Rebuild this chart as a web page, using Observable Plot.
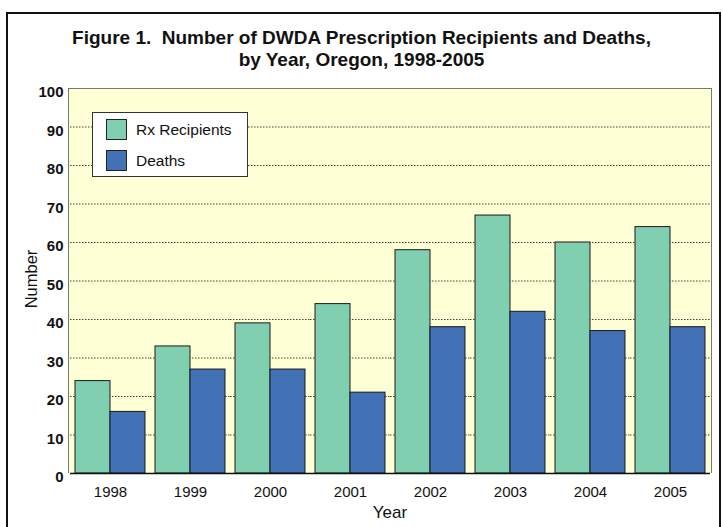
<!DOCTYPE html>
<html><head><meta charset="utf-8">
<script src="https://cdn.jsdelivr.net/npm/d3@7"></script>
<script src="https://cdn.jsdelivr.net/npm/@observablehq/plot@0.6"></script>
<style>
body{margin:0;background:#fff;font-family:"Liberation Sans",Arial,sans-serif;color:#111;}
#wrap{position:relative;width:723px;height:527px;overflow:hidden;background:#fff;}
#border{position:absolute;left:6px;top:12px;width:711px;height:600px;border:2.5px solid #111;}
#title{position:absolute;left:0;top:27px;width:723px;text-align:center;font-weight:bold;font-size:19px;line-height:22px;}
#panel{position:absolute;left:68px;top:88px;width:644px;height:385px;background:#ffffd6;border:1px solid #777;border-bottom:none;box-sizing:border-box;}
#chart{position:absolute;left:0;top:80px;}
#ylab{position:absolute;left:31px;top:279px;transform:translate(-50%,-50%) rotate(-90deg);font-size:16.5px;white-space:nowrap;}
#xlab{position:absolute;left:390px;top:513px;transform:translate(-50%,-50%);font-size:17px;}
#legend{position:absolute;left:92px;top:112px;width:156px;height:65px;background:#fff;border:1px solid #333;box-sizing:border-box;}
.item{position:absolute;left:13px;display:flex;align-items:center;font-size:15.5px;}
.sw{width:21px;height:21px;border:1px solid #222;box-sizing:border-box;margin-right:9px;}
</style></head>
<body>
<div id="wrap">
  <div id="border"></div>
  <div id="title">Figure 1.&nbsp; Number of DWDA Prescription Recipients and Deaths,<br>by Year, Oregon, 1998-2005</div>
  <div id="panel"></div>
  <div id="chart"></div>
  <div id="ylab">Number</div>
  <div id="xlab">Year</div>
  <div id="legend"></div>
</div>
<script>
const years = ["1998","1999","2000","2001","2002","2003","2004","2005"];
const rxRecipients = [24,33,39,44,58,67,60,64];
const deaths = [16,27,27,21,38,42,37,38];
const seriesNames = ["Rx Recipients","Deaths"];
const seriesColors = ["#80cfb1","#4271b6"];
const yTicks = d3.range(0,101,10);
const gridTicks = d3.range(10,100,10);

const data = years.flatMap((y,i)=>[
  {year:y, series:seriesNames[0], value:rxRecipients[i]},
  {year:y, series:seriesNames[1], value:deaths[i]}
]);

const chart = Plot.plot({
  width:723, height:447, marginTop:8, marginBottom:54, marginLeft:68, marginRight:11,
  style:{background:"transparent", fontFamily:"'Liberation Sans', Arial, sans-serif", color:"#111", overflow:"visible"},
  fx:{domain:years, paddingInner:0.12, paddingOuter:0.06, label:null},
  x:{domain:seriesNames, padding:0, axis:null},
  y:{domain:[0,100], label:null, axis:null},
  color:{domain:seriesNames, range:seriesColors},
  marks:[
    Plot.ruleY(gridTicks,{stroke:"#444", strokeDasharray:"1.5,1.5", insetLeft:-5, insetRight:-5}),
    Plot.barY(data,{fx:"year", x:"series", y:"value", fill:"series", stroke:"#1a1a1a", strokeWidth:1}),
    Plot.ruleY([0],{stroke:"#111", strokeWidth:1.5, insetLeft:-5, insetRight:-5}),
    Plot.axisY(yTicks,{tickSize:0, tickPadding:12, fontSize:15, fontWeight:"bold", dy:4, label:null}),
    Plot.axisFx({anchor:"bottom", tickSize:0, tickPadding:13, fontSize:15, label:null})
  ]
});
document.getElementById("chart").appendChild(chart);

const legend = document.getElementById("legend");
seriesNames.forEach((name,i)=>{
  const it = document.createElement("div");
  it.className = "item";
  it.style.top = (6 + i*31) + "px";
  const sw = document.createElement("div");
  sw.className = "sw";
  sw.style.background = seriesColors[i];
  const t = document.createElement("span");
  t.textContent = name;
  it.appendChild(sw); it.appendChild(t);
  legend.appendChild(it);
});
</script>
</body></html>
